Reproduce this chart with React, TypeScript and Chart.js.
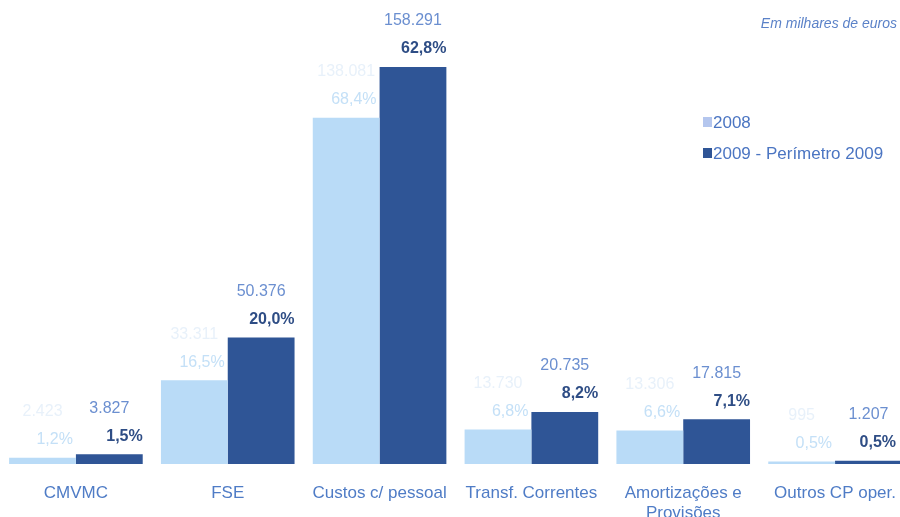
import React, { useEffect, useRef } from "react";
import { Chart, registerables } from "chart.js";

Chart.register(...registerables);

const categories: (string | string[])[] = [
  "CMVMC",
  "FSE",
  "Custos c/ pessoal",
  "Transf. Correntes",
  ["Amortizações e", "Provisões"],
  "Outros CP oper.",
];
const seriesNames = ["2008", "2009 - Perímetro 2009"];
const values2008 = [2423, 33311, 138081, 13730, 13306, 995];
const values2009 = [3827, 50376, 158291, 20735, 17815, 1207];
const valueLabels2008 = ["2.423", "33.311", "138.081", "13.730", "13.306", "995"];
const valueLabels2009 = ["3.827", "50.376", "158.291", "20.735", "17.815", "1.207"];
const pctLabels2008 = ["1,2%", "16,5%", "68,4%", "6,8%", "6,6%", "0,5%"];
const pctLabels2009 = ["1,5%", "20,0%", "62,8%", "8,2%", "7,1%", "0,5%"];
const unitNote = "Em milhares de euros";

const FONT = "'Liberation Sans', Arial, Helvetica, sans-serif";
const LIGHT = "#b9dbf7";
const DARK = "#2f5596";

const labelPlugin = {
  id: "barLabels",
  afterDatasetsDraw(chart: any) {
    const ctx = chart.ctx;
    ctx.save();
    const sets = [
      { vals: valueLabels2008, pcts: pctLabels2008, vColor: "#e8f1fa", pColor: "#c4e0f7", pBold: false },
      { vals: valueLabels2009, pcts: pctLabels2009, vColor: "#6b8fd0", pColor: "#2e4d85", pBold: true },
    ];
    sets.forEach((s, di) => {
      const meta = chart.getDatasetMeta(di);
      meta.data.forEach((el: any, i: number) => {
        const x = el.x;
        const top = el.y;
        const right = Math.min(x + el.width / 2, 896);
        ctx.textBaseline = "middle";
        ctx.font = `16px ${FONT}`;
        ctx.fillStyle = s.vColor;
        ctx.textAlign = "center";
        ctx.fillText(s.vals[i], x, top - 46);
        ctx.font = `${s.pBold ? "bold " : ""}16px ${FONT}`;
        ctx.fillStyle = s.pColor;
        ctx.textAlign = "right";
        ctx.fillText(s.pcts[i], right - (di === 0 ? 3 : 0), top - 18);
      });
    });
    // unit note
    ctx.font = `italic 14px ${FONT}`;
    ctx.fillStyle = "#5b82c8";
    ctx.textAlign = "right";
    ctx.textBaseline = "middle";
    ctx.fillText(unitNote, 897, 24);
    // legend
    const lx = 703;
    const ly = [122, 153];
    const colors = [LIGHT, DARK];
    ctx.font = `17px ${FONT}`;
    ctx.textAlign = "left";
    seriesNames.forEach((n, i) => {
      ctx.fillStyle = i === 0 ? "#b4c6ee" : colors[i];
      ctx.fillRect(lx, ly[i] - 5, 9, 10);
      ctx.fillStyle = "#4b75c2";
      ctx.fillText(n, lx + 10, ly[i] + 1);
    });
    ctx.restore();
  },
};

export default function App() {
  const ref = useRef<HTMLCanvasElement>(null);
  useEffect(() => {
    document.body.style.margin = "0";
    const chart = new Chart(ref.current as HTMLCanvasElement, {
      type: "bar",
      data: {
        labels: categories as any,
        datasets: [
          { label: seriesNames[0], data: values2008, backgroundColor: LIGHT, borderWidth: 0 },
          { label: seriesNames[1], data: values2009, backgroundColor: DARK, borderWidth: 0 },
        ],
      },
      options: {
        animation: false,
        responsive: false,
        devicePixelRatio: 1,
        layout: { padding: { left: 0, right: 0, top: 0, bottom: 0 } },
        plugins: { legend: { display: false }, tooltip: { enabled: false } },
        datasets: { bar: { categoryPercentage: 0.88, barPercentage: 1.0 } },
        scales: {
          x: {
            grid: { display: false, drawTicks: false },
            border: { display: false },
            ticks: {
              color: "#4f7cc6",
              font: { family: FONT, size: 17, lineHeight: 1.15 },
              padding: 20,
              maxRotation: 0,
              autoSkip: false,
            },
          },
          y: { display: false, min: 0, max: 185000 },
        },
      },
      plugins: [labelPlugin],
    });
    return () => chart.destroy();
  }, []);
  return (
    <div style={{ position: "fixed", left: 0, top: 0, width: 900, height: 517, overflow: "hidden", background: "#fff" }}>
      <canvas ref={ref} width={916} height={543} style={{ width: 916, height: 543, display: "block" }} />
    </div>
  );
}
